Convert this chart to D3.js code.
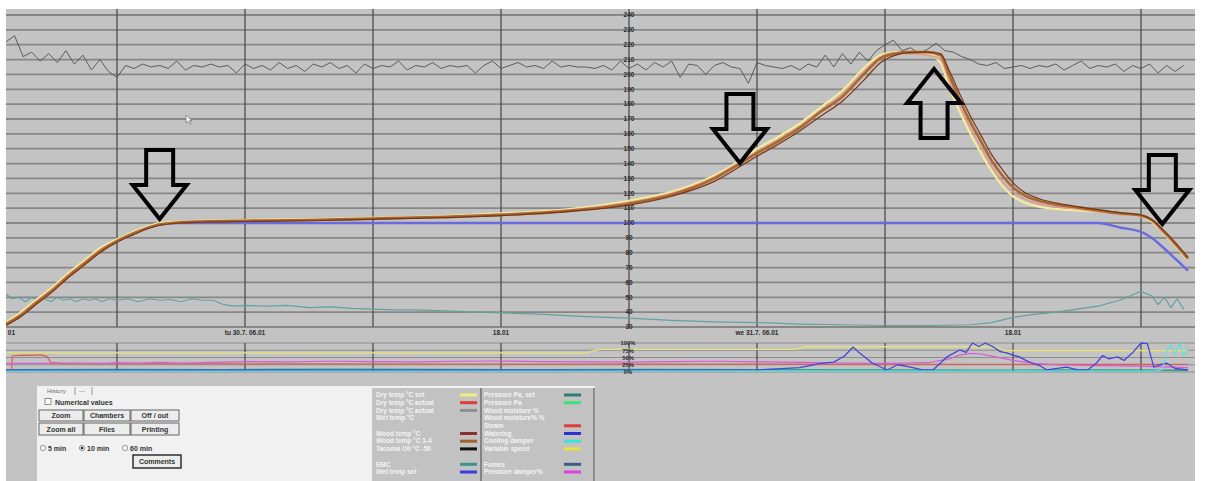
<!DOCTYPE html>
<html>
<head>
<meta charset="utf-8">
<script src="https://cdn.jsdelivr.net/npm/d3@7"></script>
<style>
  body { margin: 0; background: #fff; }
  svg { display: block; font-family: "Liberation Sans", Arial, sans-serif; }
</style>
</head>
<body>
<svg id="chart" width="1205" height="481"></svg>
<script>
// ---- time axis (hours from tu 30.7. 00:01) ----
var gridHours = [0, 6, 12, 18, 24, 30, 36, 42, 48];
var timeTickHours = [6, 18, 30, 42];
var timeTickLabels = ["tu 30.7. 06.01", "18.01", "we 31.7. 06.01", "18.01"];
var edgeLabel = "01";
var tempTicks = [30, 40, 50, 60, 70, 80, 90, 100, 110, 120, 130, 140, 150, 160, 170, 180, 190, 200, 210, 220, 230, 240];
var pctTicks = [0, 25, 50, 75, 100];
var pctLabels = ["0%", "25%", "50%", "75%", "100%"];

// ---- kiln temperatures, °C ----
var tempHours = [-5.2, -4.5, -3.9, -3, -2.3, -1.5, -0.8, 0, 0.75, 1.5, 2, 3, 4, 6, 9, 12, 15, 18, 21, 24, 26, 28, 29.2, 30, 31, 32, 33, 34, 35, 35.8, 36.5, 37, 38, 38.6, 39, 39.5, 40, 40.5, 41, 41.5, 42, 42.5, 43.2, 44, 45, 46, 47, 48, 48.5, 49, 49.6, 50.2];
var drySet = [33, 40, 47, 57, 66, 75, 83, 89, 94, 98, 100, 101, 101.5, 102, 102.5, 103.5, 104.5, 106.5, 109, 115, 121, 132, 142, 150, 158, 167, 178, 189, 204, 213, 215, 215, 214, 208, 192, 175, 160, 147, 135, 125, 118, 114, 111, 109.5, 108.5, 107.5, 106.5, 104.5, 101, 94, 85, 75];
var dryActual = [32, 39, 46, 56, 65, 74, 82, 88, 93, 97.5, 99.5, 100.5, 101, 101.5, 102, 103, 104, 106, 108.5, 114, 120, 131, 141, 148, 156, 165, 176, 187, 202, 212, 214.5, 214, 213, 210, 196, 179, 164, 151, 138, 128, 121, 116.5, 113, 111, 109.5, 107.5, 106, 104.5, 101.5, 94.5, 85.5, 75.5];
var woodTemp14 = [32, 38, 45, 55, 64, 73, 81, 88, 93, 97, 99, 100.5, 101, 101.5, 102, 103, 104, 105.5, 108, 113, 119, 130, 140, 147, 155, 164, 175, 185, 200, 211, 214, 215, 215, 213, 200, 183, 168, 155, 142, 132, 124, 119, 115, 112.5, 110.5, 108.5, 106.5, 105, 102, 95, 86, 76];
var woodTemp = [31, 37, 44, 54, 63, 72, 80, 87, 92, 96.5, 98.5, 100, 100.5, 101, 101.5, 102.5, 103.5, 105, 107.5, 112, 118, 128, 138, 145, 153, 162, 172, 182, 196, 208, 213, 214.5, 215, 214, 203, 187, 172, 159, 146, 136, 127, 121, 116.5, 113.5, 111, 109, 107, 105.5, 102.5, 96, 87, 77];
var wetSet = [32, 38, 45, 55, 64, 73, 81, 88, 93, 97, 99, 100, 100, 100, 100, 100, 100, 100, 100, 100, 100, 100, 100, 100, 100, 100, 100, 100, 100, 100, 100, 100, 100, 100, 100, 100, 100, 100, 100, 100, 100, 100, 100, 100, 100, 100, 97, 94, 90, 84, 76, 68];

// noisy grey trace, sampled every 0.4 h from -5.2 h
var greyStart = -5.2, greyStep = 0.4;
var greyVals = [222, 226, 212, 215, 209, 214, 208, 216, 207, 213, 203, 210, 202, 198, 206, 204, 207, 205, 206, 204,
  209, 203, 206, 205, 207, 205, 206, 201, 207, 204, 206, 203, 208, 204, 206, 202, 207, 205, 208, 204,
  206, 201, 207, 204, 206, 205, 209, 203, 206, 205, 208, 204, 206, 205, 206, 201, 206, 209, 204, 206,
  208, 205, 206, 204, 209, 205, 206, 205, 205, 204, 206, 203, 209, 204, 207, 203, 208, 205, 209, 198,
  207, 206, 200, 206, 208, 205, 204, 194, 208, 206, 205, 204, 206, 203, 207, 205, 213, 205, 214, 207,
  215, 209, 216, 220, 223, 216, 218, 214, 217, 221, 216, 215, 212, 210, 207, 206, 208, 204, 205, 206,
  204, 206, 205, 207, 203, 206, 209, 204, 206, 205, 207, 202, 206, 204, 207, 201, 206, 202, 206];

// EMC
var emcHours = [-5.2, -4.9, -4.6, -4.3, -4.0, -3.7, -3.4, -3.1, -2.8, -2.5, -2.2, -1.9, -1.6, -1.3, -1.0, -0.7, -0.4, 0, 0.5, 1, 1.5, 2, 2.5, 3, 3.5, 4, 4.5, 5, 5.5, 6, 7, 8, 9, 10, 11, 12, 13, 14, 16, 18, 20, 22, 24, 26, 28, 30, 32, 34, 36, 38, 40, 41, 42, 43, 44, 45, 46, 47, 47.5, 48, 48.5, 48.8, 49.1, 49.4, 49.7, 50.0];
var emcVals = [52, 49, 50, 47, 50, 48, 49, 47, 50, 48, 49, 47, 49, 48, 49, 47, 49, 48, 49, 47, 49, 48, 48.5, 47, 49, 48, 48, 45, 44, 44.5, 44, 44.5, 43, 43.5, 42.5, 42, 41.5, 41.5, 40.5, 39.5, 38.5, 37, 36, 34.5, 33.5, 33, 32, 31.5, 31, 31, 31.5, 33, 36.5, 38.5, 40, 42, 44, 48, 51, 54, 51, 45, 50, 43, 49, 42];

// ---- lower panel, % ----
var speedHours = [-5.2, 22, 22.6, 31.8, 32.3, 41.2, 41.6, 50.2];
var speedVals = [66, 66, 78, 78, 87, 87, 74, 74];
var steamHours = [-5.2, -4.95, -4.9, -4.3, -4.0, -3.6, -3.3, -3.1, -2.5, 10, 20, 30, 40, 50.2];
var steamVals = [4, 4, 56, 58, 57, 59, 55, 33, 29, 28, 27, 27, 26, 26];
var damperHours = [-5.2, -3.5, -2, -0.5, 0, 1, 2, 3, 4, 6, 8, 10, 12, 14, 16, 18, 20, 22, 24, 26, 28, 30, 32, 34, 36, 37, 38, 39, 39.5, 40, 40.5, 41, 42, 43, 44, 46, 48, 49, 50.2];
var damperVals = [30, 30, 31, 30, 32, 31, 33, 31, 32, 36, 35, 37, 36, 35, 37, 38, 36, 35, 34, 36, 37, 35, 33, 31, 30, 31, 32, 45, 58, 64, 62, 55, 40, 30, 25, 22, 20, 18, 15];
var pressHours = [-5.2, 0, 5, 10, 15, 20, 25, 30, 35, 40, 45, 50.2];
var pressVals = [8, 9, 8, 10, 9, 8, 9, 8, 7, 6, 7, 6];
var waterHours = [-5.2, 10, 20, 30, 32, 33, 33.6, 34.1, 34.5, 34.8, 35.4, 36.1, 36.6, 37.2, 37.7, 38.25, 38.9, 39.5, 39.8, 40.1, 40.4, 40.7, 41.1, 41.4, 41.7, 42.0, 42.3, 42.6, 42.9, 43.3, 43.6, 44.0, 44.5, 45.0, 45.5, 45.9, 46.2, 46.5, 46.9, 47.2, 47.6, 48.0, 48.3, 48.6, 48.9, 49.2, 49.6, 50.2];
var waterVals = [6, 6, 6, 7, 15, 30, 34, 55, 86, 66, 31, 7, 25, 17, 8, 7, 52, 76, 68, 100, 88, 100, 86, 70, 66, 58, 52, 40, 31, 20, 7, 12, 17, 8, 7, 30, 57, 45, 52, 40, 66, 100, 98, 17, 25, 31, 12, 7];
var coolHours = [-5.2, 48.6, 49.0, 49.2, 49.4, 49.6, 49.8, 50.0, 50.2];
var coolVals = [3, 3, 8, 70, 95, 60, 100, 55, 90];

// annotation arrows: tip position in data units
var arrows = [
  { h: 2.0, v: 102.7, dir: "down" },
  { h: 29.2, v: 140.4, dir: "down" },
  { h: 38.3, v: 203.7, dir: "up" },
  { h: 49.0, v: 99.3, dir: "down" }
];

// legend / control panel text
var legendLeft = [["Dry temp °C set", "#f2ee78", 0], ["Dry temp °C actual", "#e03c3c", 1], ["Dry temp °C actual", "#8e8e8e", 2], ["Wet temp °C", null, 3],
  ["Wood temp °C", "#8a3030", 5], ["Wood temp °C 1-4", "#a0642d", 6], ["Tacoma Oil °C -50", "#111111", 7], ["EMC", "#3a968c", 9], ["Wet temp set", "#3c3ce0", 10]];
var legendRight = [["Pressure Pa, set", "#2a7e7a", 0], ["Pressure Pa", "#3ee07a", 1], ["Wood moisture %", null, 2], ["Wood moisture% %", null, 3], ["Steam", "#e03c3c", 4],
  ["Watering", "#3030d0", 5], ["Cooling damper", "#3ee0e0", 6], ["Variable speed", "#e8e040", 7], ["Fumes", "#3e5e86", 9], ["Pressure damper%", "#e040e0", 10]];
var buttonRows = [["Zoom", "Chambers", "Off / out"], ["Zoom all", "Files", "Printing"]];
var radioLabels = ["5 min", "10 min", "60 min"];

var svg = d3.select("#chart");
var xLeft = 6, xRight = 1195;

var x = d3.scaleLinear().domain([0, 48]).range([117, 1141]);
var yTop = d3.scaleLinear().domain([30, 240]).range([327, 15]);
var yLow = d3.scaleLinear().domain([0, 100]).range([372, 343]);

svg.append("rect").attr("width", 1205).attr("height", 481).attr("fill", "#fff");
svg.append("rect").attr("x", xLeft).attr("y", 9).attr("width", xRight - xLeft).attr("height", 472).attr("fill", "#c3c3c3");

var defs = svg.append("defs");
defs.append("clipPath").attr("id", "clipTop").append("rect").attr("x", xLeft).attr("y", 9).attr("width", xRight - xLeft).attr("height", 320);
defs.append("clipPath").attr("id", "clipLow").append("rect").attr("x", xLeft).attr("y", 340).attr("width", xRight - xLeft).attr("height", 34);
defs.append("clipPath").attr("id", "clipAll").append("rect").attr("x", xLeft).attr("y", 9).attr("width", xRight - xLeft).attr("height", 370);

// grid
var grid = svg.append("g");
tempTicks.forEach(function (t) {
  grid.append("line").attr("x1", xLeft).attr("x2", xRight).attr("y1", yTop(t)).attr("y2", yTop(t))
    .attr("stroke", "#878787").attr("stroke-width", 1.8);
});
pctTicks.forEach(function (t) {
  grid.append("line").attr("x1", xLeft).attr("x2", xRight).attr("y1", yLow(t)).attr("y2", yLow(t))
    .attr("stroke", "#8e8e8e").attr("stroke-width", 1.2);
});
gridHours.forEach(function (h) {
  grid.append("line").attr("x1", x(h)).attr("x2", x(h)).attr("y1", 9).attr("y2", yTop(30))
    .attr("stroke", "#4e4e4e").attr("stroke-width", 1.3);
  grid.append("line").attr("x1", x(h)).attr("x2", x(h)).attr("y1", yLow(100)).attr("y2", yLow(0))
    .attr("stroke", "#4e4e4e").attr("stroke-width", 1.3);
});

function drawSeries(g, hours, values, yScale, color, width, curve) {
  var line = d3.line()
    .x(function (d, i) { return x(hours[i]); })
    .y(function (d) { return yScale(d); })
    .curve(curve || d3.curveLinear);
  g.append("path").datum(values).attr("d", line).attr("fill", "none")
    .attr("stroke", color).attr("stroke-width", width).attr("stroke-linejoin", "round");
}

var plotTop = svg.append("g").attr("clip-path", "url(#clipTop)");
var greyHours = greyVals.map(function (d, i) { return greyStart + i * greyStep; });
drawSeries(plotTop, greyHours, greyVals, yTop, "#4f4f4f", 0.9);
drawSeries(plotTop, emcHours, emcVals, yTop, "#62a2a0", 1.2);
drawSeries(plotTop, tempHours, wetSet, yTop, "#6a6ae0", 2.4, d3.curveMonotoneX);
drawSeries(plotTop, tempHours, drySet, yTop, "#f3ec9a", 2.2, d3.curveMonotoneX);
drawSeries(plotTop, tempHours, dryActual, yTop, "#e09a92", 1.6, d3.curveMonotoneX);
drawSeries(plotTop, tempHours, woodTemp14, yTop, "#a8692e", 2.6, d3.curveMonotoneX);
drawSeries(plotTop, tempHours, woodTemp, yTop, "#7a3418", 1.2, d3.curveMonotoneX);

var plotLow = svg.append("g").attr("clip-path", "url(#clipLow)");
drawSeries(plotLow, speedHours, speedVals, yLow, "#e6e27c", 1.4);
drawSeries(plotLow, pressHours, pressVals, yLow, "#2aa088", 1.4);
drawSeries(plotLow, steamHours, steamVals, yLow, "#d8604e", 1.2);
drawSeries(plotLow, damperHours, damperVals, yLow, "#d95ad9", 1.2);
drawSeries(plotLow, waterHours, waterVals, yLow, "#4646d6", 1.3);
drawSeries(plotLow, coolHours, coolVals, yLow, "#5ee0e0", 1.2);

// axis labels (drawn over the traces, as in the kiln program)
var labels = svg.append("g").attr("clip-path", "url(#clipAll)")
  .attr("font-size", 6.5).attr("font-weight", "bold").attr("fill", "#2a2a2a");
tempTicks.forEach(function (t) {
  labels.append("text").attr("x", x(24)).attr("y", yTop(t) + 2.3).attr("text-anchor", "middle").text(t);
});
pctTicks.forEach(function (t, i) {
  labels.append("text").attr("x", x(24) - 1).attr("y", yLow(t) + 2.3).attr("text-anchor", "middle").attr("font-size", 5.8).text(pctLabels[i]);
});
timeTickHours.forEach(function (h, i) {
  labels.append("text").attr("x", x(h)).attr("y", 335).attr("text-anchor", "middle").text(timeTickLabels[i]);
});
labels.append("text").attr("x", x(-6) + 26).attr("y", 335).attr("text-anchor", "end").text(edgeLabel);

// hollow arrows
var shaftHalf = 13.5, headHalf = 27, headLen = 34, shaftLen = 35;
arrows.forEach(function (a) {
  var tx = x(a.h), ty = yTop(a.v), s = a.dir === "down" ? -1 : 1;
  var pts = [
    [tx, ty],
    [tx - headHalf, ty + s * headLen],
    [tx - shaftHalf, ty + s * headLen],
    [tx - shaftHalf, ty + s * (headLen + shaftLen)],
    [tx + shaftHalf, ty + s * (headLen + shaftLen)],
    [tx + shaftHalf, ty + s * headLen],
    [tx + headHalf, ty + s * headLen]
  ];
  svg.append("path").attr("d", "M" + pts.join("L") + "Z").attr("fill", "none")
    .attr("stroke", "#000").attr("stroke-width", 4).attr("stroke-linejoin", "miter");
});

// mouse pointer
svg.append("path").attr("transform", "translate(186,115)")
  .attr("d", "M0,0L0,8L2,6.2L3.6,9.2L5,8.6L3.5,5.6L6,5.6Z")
  .attr("fill", "#fff").attr("stroke", "#777").attr("stroke-width", 0.8);

// ---- control panel ----
var panel = svg.append("g").attr("font-size", 7);
panel.append("rect").attr("x", 37).attr("y", 386).attr("width", 558).attr("height", 95).attr("fill", "#f1f1f1");
panel.append("text").attr("x", 47).attr("y", 393).attr("fill", "#666").attr("font-size", 6).text("History");
panel.append("line").attr("x1", 75).attr("x2", 75).attr("y1", 387).attr("y2", 395).attr("stroke", "#999");
panel.append("text").attr("x", 79).attr("y", 393).attr("fill", "#666").attr("font-size", 6).text("---");
panel.append("line").attr("x1", 92).attr("x2", 92).attr("y1", 387).attr("y2", 395).attr("stroke", "#999");
panel.append("rect").attr("x", 45).attr("y", 398.5).attr("width", 6).attr("height", 6).attr("fill", "#fff").attr("stroke", "#777").attr("stroke-width", 0.8);
panel.append("text").attr("x", 55).attr("y", 404.5).attr("font-weight", "bold").attr("fill", "#333").text("Numerical values");

var btnX = [39, 84, 131], btnW = [44, 46, 48], btnY = [410, 423], btnH = [11, 12];
buttonRows.forEach(function (row, r) {
  row.forEach(function (label, c) {
    panel.append("rect").attr("x", btnX[c]).attr("y", btnY[r]).attr("width", btnW[c]).attr("height", btnH[r])
      .attr("fill", "#ececec").attr("stroke", "#555").attr("stroke-width", 0.9);
    panel.append("text").attr("x", btnX[c] + btnW[c] / 2).attr("y", btnY[r] + btnH[r] / 2 + 2.5)
      .attr("text-anchor", "middle").attr("font-weight", "bold").attr("fill", "#333").text(label);
  });
});
var radioX = [43, 82, 125];
radioLabels.forEach(function (label, i) {
  panel.append("circle").attr("cx", radioX[i]).attr("cy", 448).attr("r", 2.6).attr("fill", "#fff").attr("stroke", "#777").attr("stroke-width", 0.8);
  if (i === 1) panel.append("circle").attr("cx", radioX[i]).attr("cy", 448).attr("r", 1.3).attr("fill", "#222");
  panel.append("text").attr("x", radioX[i] + 5).attr("y", 450.5).attr("font-weight", "bold").attr("fill", "#333").text(label);
});
panel.append("rect").attr("x", 133).attr("y", 455).attr("width", 48).attr("height", 13)
  .attr("fill", "#ececec").attr("stroke", "#222").attr("stroke-width", 1.4);
panel.append("text").attr("x", 157).attr("y", 464).attr("text-anchor", "middle").attr("font-weight", "bold").attr("fill", "#333").text("Comments");

// legend box
var leg = svg.append("g").attr("font-size", 6.5).attr("font-weight", "bold").attr("fill", "#f4f4f4");
leg.append("rect").attr("x", 372).attr("y", 388).attr("width", 222).attr("height", 93).attr("fill", "#c2c2c2");
leg.append("line").attr("x1", 481).attr("x2", 481).attr("y1", 388).attr("y2", 481).attr("stroke", "#5a5a5a").attr("stroke-width", 1.2);
leg.append("line").attr("x1", 594).attr("x2", 594).attr("y1", 388).attr("y2", 481).attr("stroke", "#5a5a5a").attr("stroke-width", 1.2);
function legendColumn(items, tx, sx) {
  items.forEach(function (it) {
    var y = 395 + it[2] * 7.7;
    leg.append("text").attr("x", tx).attr("y", y + 2.2).text(it[0]);
    if (it[1]) leg.append("rect").attr("x", sx).attr("y", y - 1.5).attr("width", 17).attr("height", 3).attr("fill", it[1]);
  });
}
legendColumn(legendLeft, 376, 460);
legendColumn(legendRight, 484, 564);
</script>
</body>
</html>
